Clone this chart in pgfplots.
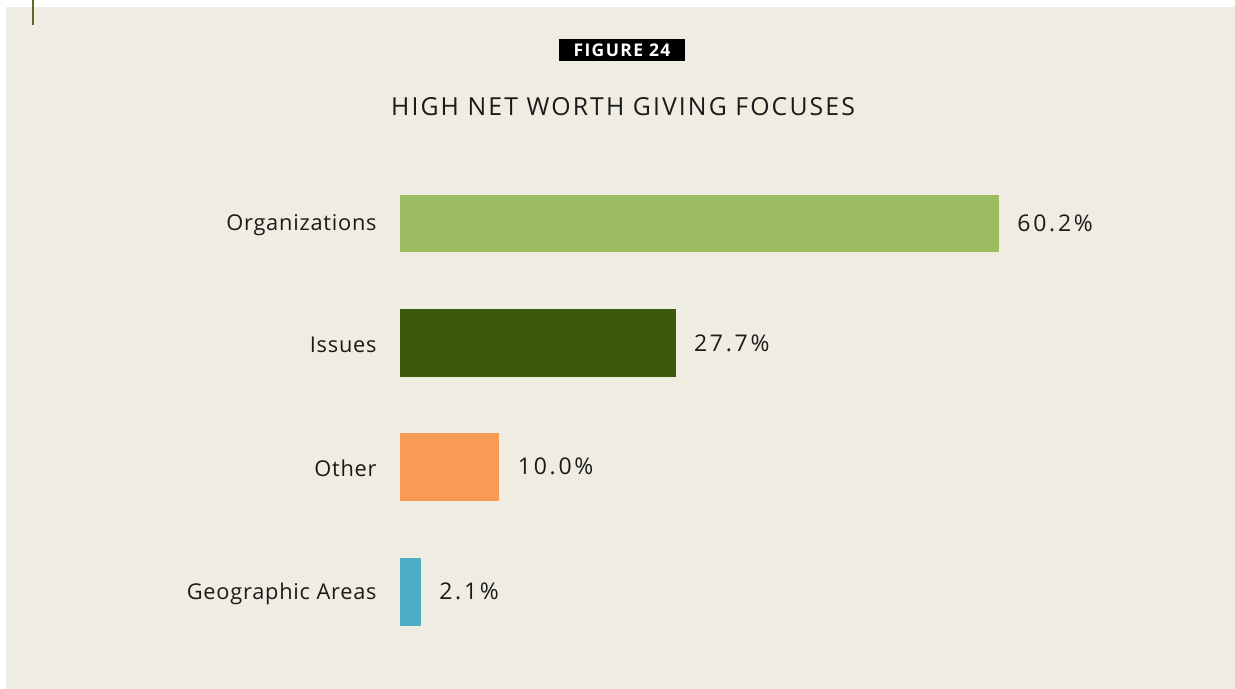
\documentclass[border=0pt]{standalone}
\usepackage{fontspec}
\usepackage{pgfplots}
\pgfplotsset{compat=1.18}
\setmainfont{Open Sans}
\newfontfamily\titlefont{Open Sans}[LetterSpace=8.5]
\newfontfamily\labelfont{Open Sans}[LetterSpace=3.5]
\newfontfamily\valuefont{Open Sans}[LetterSpace=12]
\newfontfamily\figfont{Open Sans}[LetterSpace=8]
\definecolor{panel}{HTML}{EFECE2}
\definecolor{orgc}{HTML}{9DBB61}
\definecolor{issc}{HTML}{3C5A0C}
\definecolor{othc}{HTML}{F79B55}
\definecolor{geoc}{HTML}{4FADC6}
\definecolor{txt}{HTML}{1A1A1A}
\definecolor{linec}{HTML}{5A6B2A}
\begin{document}
\begin{tikzpicture}[x=0.5pt,y=0.5pt]
\fill[white] (0,0) rectangle (1235,689);
\fill[panel] (6,0) rectangle (1235,682);
\fill[linec] (32,664) rectangle (34,689);
\fill[black] (559,650) rectangle (685,628);
\node[text=white, inner sep=0pt] at (622,639) {\figfont\fontsize{8.75}{10}\selectfont\bfseries FIGURE 24};
\node[text=txt, inner sep=0pt] at (623,582) {\titlefont\fontsize{12.4}{14}\selectfont HIGH NET WORTH GIVING FOCUSES};
\begin{axis}[
  at={(402,0)}, anchor=south west,
  scale only axis, width=398pt, height=344.5pt,
  xmin=0, xmax=80, ymin=0, ymax=689,
  axis line style={draw=none},
  major tick length=0pt,
  xtick=\empty,
  ytick={465.5,346,222.3,97.2},
  yticklabels={Organizations,Issues,Other,Geographic Areas},
  y tick label style={font=\labelfont\fontsize{10.9}{12}\selectfont, text=txt, inner sep=0pt, anchor=east, xshift=-11.5pt, yshift=-1pt},
  clip=false,
  /pgf/number format/assume math mode=true,
  every node near coord/.append style={font=\valuefont\fontsize{11.5}{13}\selectfont, text=txt, inner sep=0pt, anchor=west, xshift=9pt},
  nodes near coords={\pgfmathprintnumber[fixed,precision=1,fixed zerofill,assume math mode=true]{\pgfplotspointmeta}\%},
  point meta=x,
]
\addplot[xbar, bar shift=0pt, bar width=57, fill=orgc, draw=none] coordinates {(60.2,465.5)};
\addplot[xbar, bar shift=0pt, bar width=68, fill=issc, draw=none] coordinates {(27.7,346)};
\addplot[xbar, bar shift=0pt, bar width=68, fill=othc, draw=none] coordinates {(10.0,222.3)};
\addplot[xbar, bar shift=0pt, bar width=68, fill=geoc, draw=none] coordinates {(2.1,97.2)};
\end{axis}
\end{tikzpicture}
\end{document}
